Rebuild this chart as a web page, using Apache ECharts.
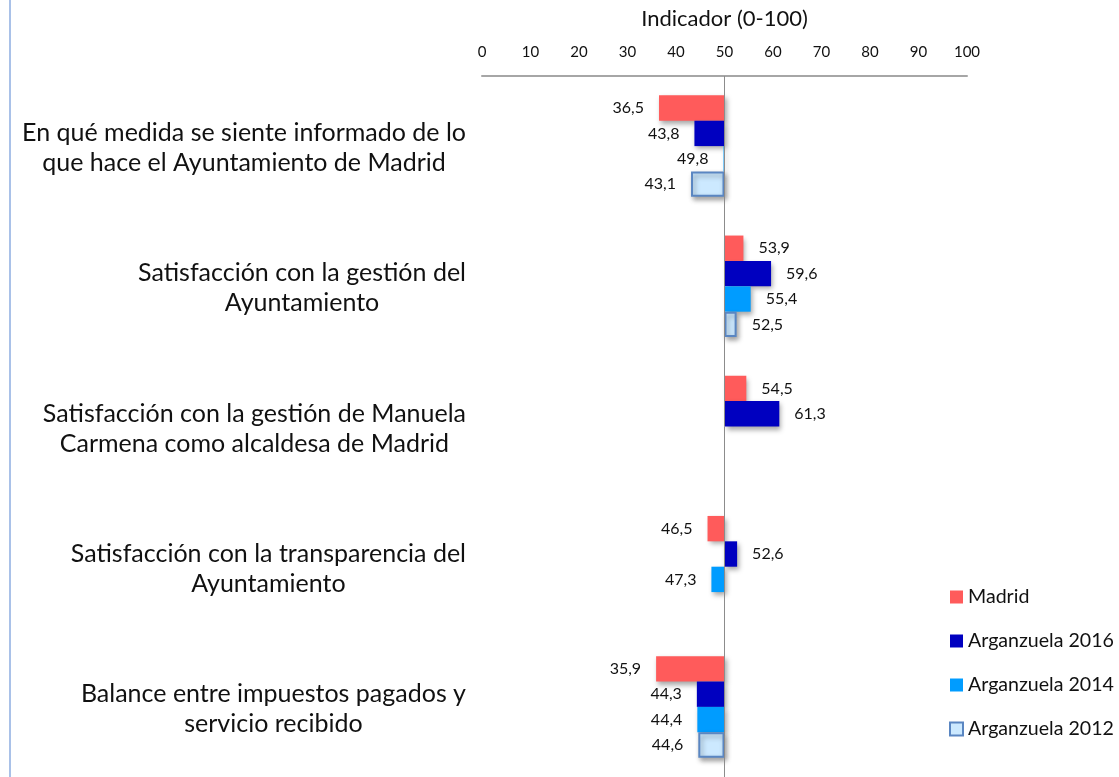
<!DOCTYPE html>
<html>
<head>
<meta charset="utf-8">
<script src="https://cdn.jsdelivr.net/npm/echarts@6/dist/echarts.min.js"></script>
<style>
html,body{margin:0;padding:0;background:#fff;}
#chart{width:1119px;height:777px;}
</style>
</head>
<body>
<div id="chart"></div>
<script>
// ---- data ----
var categories = [
  "En qué medida se siente informado de lo\nque hace el Ayuntamiento de Madrid",
  "Satisfacción con la gestión del\nAyuntamiento",
  "Satisfacción con la gestión de Manuela\nCarmena como alcaldesa de Madrid",
  "Satisfacción con la transparencia del\nAyuntamiento",
  "Balance entre impuestos pagados y\nservicio recibido"
];
var seriesNames = ["Madrid", "Arganzuela 2016", "Arganzuela 2014", "Arganzuela 2012"];
var madrid = [36.5, 53.9, 54.5, 46.5, 35.9];
var arg2016 = [43.8, 59.6, 61.3, 52.6, 44.3];
var arg2014 = [49.8, 55.4, null, 47.3, 44.4];
var arg2012 = [43.1, 52.5, null, null, 44.6];
var baseline = 50;
var xTicks = [0, 10, 20, 30, 40, 50, 60, 70, 80, 90, 100];

var FONT = "Lato";
var colors = ["#FF5B5B", "#0000C0", "#009CFF", "#CCE9FF"];
var borders = [null, null, null, "#5A86C2"];
var allValues = [madrid, arg2016, arg2014, arg2012];

var series = [];
allValues.forEach(function (vals, k) {
  var stackId = "s" + k;
  series.push({
    name: seriesNames[k] + "_base",
    type: "bar",
    stack: stackId,
    silent: true,
    barGap: "0%",
    barCategoryGap: "27.6%",
    itemStyle: { color: "rgba(0,0,0,0)" },
    data: vals.map(function (v) { return v == null ? null : Math.min(v, baseline); })
  });
  var vis = {
    name: seriesNames[k],
    type: "bar",
    stack: stackId,
    barGap: "0%",
    barCategoryGap: "27.6%",
    itemStyle: {
      color: colors[k],
      borderColor: borders[k] || colors[k],
      borderWidth: borders[k] ? 2 : 0,
      shadowColor: "rgba(0,0,0,0.35)",
      shadowBlur: 5,
      shadowOffsetX: 2,
      shadowOffsetY: 3
    },
    data: vals.map(function (v) {
      if (v == null) return null;
      return {
        value: Math.abs(v - baseline),
        label: {
          show: true,
          position: v < baseline ? "left" : "right",
          distance: 15,
          formatter: function () { return String(v.toFixed(1)).replace(".", ","); },
          fontFamily: FONT,
          fontSize: 16,
          color: "#111"
        }
      };
    })
  };
  if (k === 0) {
    vis.markLine = {
      silent: true,
      symbol: "none",
      label: { show: false },
      lineStyle: { color: "#8c8c8c", width: 1, type: "solid" },
      data: [{ xAxis: baseline }]
    };
  }
  series.push(vis);
});

var chart = echarts.init(document.getElementById("chart"));
chart.setOption({
  animation: false,
  backgroundColor: "#fff",
  grid: { left: 482, top: 76, width: 485, height: 705, containLabel: false },
  xAxis: {
    type: "value",
    position: "top",
    min: 0,
    max: 100,
    interval: 10,
    name: "Indicador (0-100)",
    nameLocation: "middle",
    nameGap: 46,
    nameTextStyle: { fontFamily: FONT, fontSize: 22, color: "#111" },
    axisLine: { show: true, lineStyle: { color: "#a6a6a6", width: 2 } },
    axisTick: { show: false },
    splitLine: { show: false },
    axisLabel: {
      fontFamily: FONT, fontSize: 15, color: "#111", margin: 16,
      formatter: function (v) { return xTicks.indexOf(v) >= 0 ? String(v) : ""; }
    }
  },
  yAxis: {
    type: "category",
    inverse: true,
    data: categories,
    axisLine: { show: false },
    axisTick: { show: false },
    axisLabel: {
      margin: 16,
      align: "right",
      formatter: function (s) {
        return s.split("\n").map(function (l) { return "{c|" + l + "}"; }).join("\n");
      },
      rich: {
        c: { fontFamily: FONT, fontSize: 25, color: "#111", align: "center", lineHeight: 30, padding: [4, 0, 0, 0] }
      }
    }
  },
  legend: {
    orient: "vertical",
    left: 944,
    top: 582,
    itemWidth: 13,
    itemHeight: 13,
    itemGap: 24,
    icon: "rect",
    data: seriesNames,
    textStyle: { fontFamily: FONT, fontSize: 19.6, color: "#111" }
  },
  graphic: [{
    type: "rect",
    shape: { x: 9, y: 0, width: 2, height: 777 },
    style: { fill: "#a9c1e8" },
    silent: true
  }],
  series: series
});
</script>
</body>
</html>
